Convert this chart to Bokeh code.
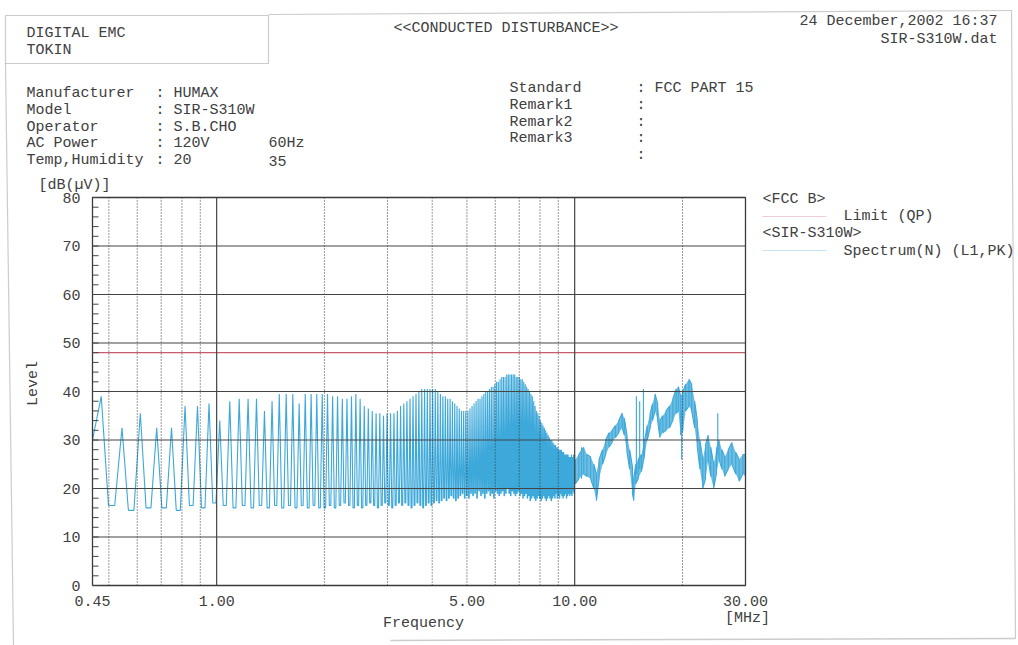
import math
from bokeh.plotting import figure
from bokeh.models import Label, PolyAnnotation, Range1d
from bokeh.embed import file_html
from bokeh.resources import INLINE

# ---------------- data ----------------
y_ticks = [0, 10, 20, 30, 40, 50, 60, 70, 80]
y_tick_labels = ["0", "10", "20", "30", "40", "50", "60", "70", "80"]
y_minor = list(range(0, 81, 2))
x_ticks = [0.45, 1.0, 5.0, 10.0, 30.0]
x_tick_labels = ["0.45", "1.00", "5.00", "10.00", "30.00"]
grid_solid_freq = [1.0, 10.0]
grid_dotted_freq = [0.5, 0.6, 0.7, 0.8, 0.9, 2, 3, 4, 5, 6, 7, 8, 9, 20]
grid_level = [10, 20, 30, 40, 50, 60, 70]

limit_freq = [0.45, 30.0]
limit_level = [48.0, 48.0]

lead_freq = [0.45]
lead_level = [30.0]

# harmonic peaks (MHz)
harm_freq = [
    0.476, 0.544, 0.612, 0.680, 0.748, 0.816, 0.884, 0.952, 1.020, 1.088, 1.156, 1.224,
    1.292, 1.360, 1.428, 1.496, 1.564, 1.632, 1.700, 1.768, 1.836, 1.904, 1.972, 2.040,
    2.108, 2.176, 2.244, 2.312, 2.380, 2.448, 2.516, 2.584, 2.652, 2.720, 2.788, 2.856,
    2.924, 2.992, 3.060, 3.128, 3.196, 3.264, 3.332, 3.400, 3.468, 3.536, 3.604, 3.672,
    3.740, 3.808, 3.876, 3.944, 4.012, 4.080, 4.148, 4.216, 4.284, 4.352, 4.420, 4.488,
    4.556, 4.624, 4.692, 4.760, 4.828, 4.896, 4.964, 5.032, 5.100, 5.168, 5.236, 5.304,
    5.372, 5.440, 5.508, 5.576, 5.644, 5.712, 5.780, 5.848, 5.916, 5.984, 6.052, 6.120,
    6.188, 6.256, 6.324, 6.392, 6.460, 6.528, 6.596, 6.664, 6.732, 6.800, 6.868, 6.936,
    7.004, 7.072, 7.140, 7.208, 7.276, 7.344, 7.412, 7.480, 7.548, 7.616, 7.684, 7.752,
    7.820, 7.888, 7.956, 8.024, 8.092, 8.160, 8.228, 8.296, 8.364, 8.432, 8.500, 8.568,
    8.636, 8.704, 8.772, 8.840, 8.908, 8.976, 9.044, 9.112, 9.180, 9.248, 9.316, 9.384,
    9.452, 9.520, 9.588, 9.656, 9.724, 9.792, 9.860, 9.928, 9.996,
]
harm_peak = [
    39, 32.5, 35.5, 32.5, 32.5, 37, 37, 37.5, 34, 38, 38.5, 38.5,
    38.5, 36, 38, 39.5, 39.5, 39.5, 37.5, 39.5, 39.5, 39.5, 39.5, 39.5,
    39, 39, 38.5, 38.5, 39, 39.5, 38.5, 37, 36.5, 36, 35.5, 35.5, 35, 35.5, 35.5,
    35.5, 36, 37, 37.5, 38, 38.5, 39, 39.5, 40, 40.5, 40.5, 40.5, 40.5, 40.5, 40.5,
    40, 39.5, 39, 39, 38.5, 38.5, 38, 37.5, 37, 36.5, 36, 36, 36, 36, 36.5,
    37, 37.5, 38, 38.5, 38.5, 39, 39.5, 40, 40, 40.5, 41, 41, 41.5, 42, 42,
    42.5, 43, 43, 43, 43.5, 43.5, 43.5, 43.5, 43.5, 43.5, 43, 43, 43, 42.5, 42.5,
    42, 41.5, 41, 40.5, 40, 39.5, 39, 38, 37, 36, 35.5, 35, 34, 33.5, 33,
    32.5, 32, 31.5, 31, 30.5, 30, 30, 29.5, 29, 29, 28.5, 28.5, 28, 28, 28,
    27.5, 27.5, 27, 27, 27, 27, 26.5, 26.5, 27, 26.5, 27, 27,
]
harm_trough = [
    16.5, 15.5, 16, 16, 15.5, 16.5, 16, 17, 16.5, 16, 16.5, 16,
    16.5, 16, 16.5, 16, 16.5, 16, 16.5, 16, 16.5, 16, 16, 16.5,
    16, 16.5, 17, 16.5, 16, 16.5, 16, 16.5, 17, 16.5, 16, 16.5, 17, 16.5, 16,
    16.5, 17, 16.5, 17, 16.5, 16, 16.5, 17, 16.5, 16, 16.5, 17, 16.5, 17, 17.5,
    17, 17.5, 18, 17.5, 18, 18.5, 18, 17.5, 18, 18.5, 19, 18, 18.5, 18, 19,
    18.5, 19, 18, 19.5, 18.5, 19, 18, 19, 19.5, 18.5, 19, 18, 19.5, 19, 18.5,
    19, 19.5, 18.5, 19, 20, 19, 18.5, 19.5, 19, 18.5, 19, 19.5, 18.5, 19, 18,
    18.5, 19, 18, 18.5, 17.5, 18, 18.5, 18, 17.5, 18, 18.5, 18, 17.5, 18, 18.5,
    18, 17.5, 18, 18.5, 18, 17.5, 18, 18.5, 18, 19, 18, 18.5, 18, 19, 18.5,
    18, 18.5, 19, 18, 18.5, 19, 18.5, 19, 18.5, 19.5, 19, 21,
]

# broadband part above 10 MHz: upper / lower edge of the trace band
bb_freq = [10.05, 10.27, 10.60, 10.82, 11.08, 11.31, 11.50, 11.70, 11.96, 12.21, 12.47,
           12.72, 12.99, 13.28, 13.57, 13.76, 14.00, 14.24, 14.50, 14.62, 14.81, 15.05,
           15.36, 15.68, 15.95, 16.25, 16.50, 16.77, 17.05, 17.30, 17.62, 18.00, 18.40,
           18.80, 19.20, 19.48, 19.78, 20.05, 20.42, 20.86, 21.22, 21.64, 22.00, 22.38,
           22.79, 23.20, 23.60, 24.00, 24.45, 24.88, 25.30, 25.78, 26.25, 26.85, 27.50,
           28.18, 28.80, 29.50, 30.00]
bb_hi = [26, 27, 28.5, 27, 26.5, 25, 23, 26, 28, 30, 31.5,
         32, 33, 34, 35.5, 34.5, 31, 28, 24.5, 22, 25, 26,
         27, 30, 33, 35.5, 37.5, 39.5, 37.5, 34, 35, 36, 37,
         38.5, 40.5, 41, 39, 40, 41.5, 42.5, 41.5, 38, 34, 30,
         26, 29, 31, 28.5, 25, 28, 30, 28, 26.5, 28, 29.5,
         27.5, 26, 27, 27]
bb_lo = [21, 22, 23, 22.5, 22, 20, 17.5, 22, 25, 27, 28.5,
         29.5, 30.5, 31.5, 32.5, 31, 27.5, 24, 19, 17.5, 21, 22,
         23.5, 27, 30, 32.5, 34, 36, 34, 30.5, 31.5, 32, 32.5,
         34, 35.5, 36, 31, 32, 36, 37, 36, 32.5, 28.5, 24,
         20, 22, 26, 22.5, 20, 23, 26, 24, 22.5, 24, 25,
         23, 21.5, 23, 22.5]

spike_freq = [14.87, 15.19, 15.56, 19.90, 25.10, 10.45]
spike_base = [23, 24, 26, 26, 27, 22]
spike_top = [39, 38, 40.5, 36, 35.5, 28.5]

# ---------------- layout / styling ----------------
FONT = "Liberation Mono"
TXT = "#404040"
BLUE = "#3DA8DA"
RED = "#C45C6E"
GRID = "#444444"
FS = "15px"

W, H = 1018, 645
PL, PR, PT, PB = 92, 745, 197, 585     # plot box on the page
X0, X1 = x_ticks[0], x_ticks[-1]
Y0, Y1 = y_ticks[0], y_ticks[-1]
KX = (PR - PL) / math.log10(X1 / X0)   # px per decade
KY = (PB - PT) / (Y1 - Y0)             # px per dB

x_range = Range1d(10 ** (math.log10(X0) - PL / KX), 10 ** (math.log10(X1) + (W - PR) / KX))
y_range = Range1d(Y0 - (H - PB) / KY, Y1 + PT / KY)

p = figure(width=W, height=H, x_axis_type="log", output_backend="svg",
           toolbar_location=None, x_range=x_range, y_range=y_range,
           x_axis_location=None, y_axis_location=None,
           min_border=0, min_border_left=0, min_border_right=0,
           min_border_top=0, min_border_bottom=0)
p.background_fill_color = "white"
p.border_fill_color = "white"
p.outline_line_color = None
p.xgrid.grid_line_color = None
p.ygrid.grid_line_color = None

# ---------------- spectrum ----------------
xs = list(lead_freq)
ys = list(lead_level)
n = min(len(harm_freq), len(harm_peak), len(harm_trough))
for i in range(n):
    f = harm_freq[i]
    nxt = harm_freq[i + 1] if i + 1 < n else bb_freq[0]
    la, lb = math.log10(f), math.log10(nxt)
    xs += [f, 10 ** (la + 0.35 * (lb - la)), 10 ** (la + 0.65 * (lb - la))]
    ys += [harm_peak[i], harm_trough[i], harm_trough[i]]
for i, (f, hi, lo) in enumerate(zip(bb_freq, bb_hi, bb_lo)):
    xs += [f, f]
    ys += [hi, lo] if i % 2 == 0 else [lo, hi]

p.varea(x=bb_freq, y1=bb_lo, y2=bb_hi, fill_color=BLUE, fill_alpha=0.75)
p.line(xs, ys, line_color=BLUE, line_width=1.1)
p.segment(x0=spike_freq, y0=spike_base, x1=spike_freq, y1=spike_top,
          line_color=BLUE, line_width=1.1)

# limit
p.line(limit_freq, limit_level, line_color=RED, line_width=1.2)

# ---------------- grid / box / ticks (through the scales) ----------------
p.segment(x0=grid_dotted_freq, y0=[Y0] * len(grid_dotted_freq),
          x1=grid_dotted_freq, y1=[Y1] * len(grid_dotted_freq),
          line_color="#333333", line_dash="1 2", line_width=1)
p.segment(x0=grid_solid_freq, y0=[Y0] * len(grid_solid_freq),
          x1=grid_solid_freq, y1=[Y1] * len(grid_solid_freq),
          line_color=GRID, line_width=1.2)
p.segment(x0=[X0] * len(grid_level), y0=grid_level, x1=[X1] * len(grid_level), y1=grid_level,
          line_color=GRID, line_width=1.2)
p.line([X0, X1, X1, X0, X0], [Y0, Y0, Y1, Y1, Y0], line_color="#3a3a3a", line_width=1.3)
tick_len = 10 ** (6 / KX)
p.segment(x0=[X0] * len(y_minor), y0=y_minor, x1=[X0 * tick_len] * len(y_minor), y1=y_minor,
          line_color="#444444", line_width=1)

for v, t in zip(y_ticks, y_tick_labels):
    p.add_layout(Label(x=PL - 12, x_units="screen", y=v, y_units="data", text=t,
                       text_font=FONT, text_font_size=FS, text_color=TXT,
                       text_align="right", text_baseline="middle"))
for v, t in zip(x_ticks, x_tick_labels):
    p.add_layout(Label(x=v, x_units="data", y=H - 600, y_units="screen", text=t,
                       text_font=FONT, text_font_size=FS, text_color=TXT,
                       text_align="center", text_baseline="middle"))


# ---------------- page texts / decorations ----------------
def put(text, px, py, align="left", size=FS, angle=0.0):
    p.add_layout(Label(x=px, y=H - py, x_units="screen", y_units="screen",
                       text=text, text_font=FONT, text_font_size=size, text_color=TXT,
                       text_align=align, text_baseline="middle", angle=angle))


def rule(pts, color="#555555", width=1.2):
    p.add_layout(PolyAnnotation(xs=[q[0] for q in pts], ys=[H - q[1] for q in pts],
                                xs_units="screen", ys_units="screen",
                                line_color=color, line_width=width, fill_alpha=0))


put("DIGITAL EMC", 26, 33)
put("TOKIN", 26, 50)
put("<<CONDUCTED DISTURBANCE>>", 393, 28)
put("24 December,2002 16:37", 997, 21, align="right")
put("SIR-S310W.dat", 997, 39, align="right")

left_rows = [("Manufacturer", ": HUMAX", ""), ("Model", ": SIR-S310W", ""),
             ("Operator", ": S.B.CHO", ""), ("AC Power", ": 120V", "60Hz"),
             ("Temp,Humidity", ": 20", "35")]
for k, (a, b, c) in enumerate(left_rows):
    yy = 93 + k * 16.8
    put(a, 26, yy)
    put(b, 155, yy)
    if c:
        put(c, 268, yy)
right_rows = [("Standard", ": FCC PART 15"), ("Remark1", ":"), ("Remark2", ":"),
              ("Remark3", ":"), ("", ":")]
for k, (a, b) in enumerate(right_rows):
    yy = 88 + k * 16.8
    if a:
        put(a, 509, yy)
    put(b, 636, yy)

put("[dB(\u00b5V)]", 38, 185)
put("Level", 33, 383, align="center", angle=math.pi / 2)
put("Frequency", 423, 623, align="center")
put("[MHz]", 747, 618, align="center")

# legend
put("<FCC B>", 762, 199)
rule([(762, 216), (826, 216)], color=RED, width=1.2)
put("Limit (QP)", 843, 216)
put("<SIR-S310W>", 762, 233)
rule([(762, 250), (826, 250)], color=BLUE, width=1.2)
put("Spectrum(N) (L1,PK)", 843, 251)

# page frame
rule([(5, 15), (268, 15), (268, 63), (5, 63)], width=1.2)
rule([(268, 14), (1011, 10)], width=1.2)
rule([(1011, 10), (1015, 638)], width=1.2)
rule([(5, 63), (13, 645)], width=1.2)
rule([(390, 640), (1015, 638)], width=1.5)

open("out.html", "w").write(file_html(p, INLINE))
